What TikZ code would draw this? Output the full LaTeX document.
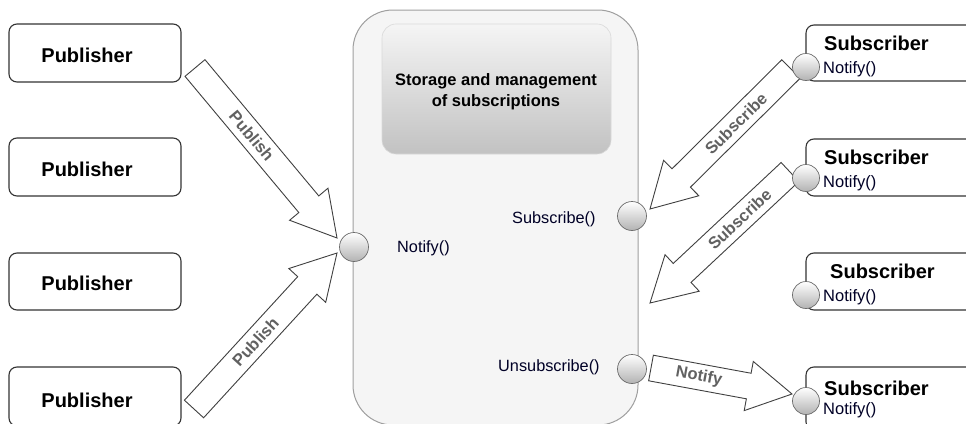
\documentclass[tikz,border=0pt]{standalone}
\usepackage{fontspec}
\setmainfont{Liberation Sans}
\usetikzlibrary{calc}
\tikzset{
  pubbox/.style={draw=black!80, line width=1.1pt, rounded corners=8pt, fill=white},
  subbox/.style={draw=black!80, line width=1.1pt, rounded corners=8pt, fill=white},
  port/.style={circle, draw=gray!85!black, line width=0.7pt, shading=axis, top color=white, bottom color=gray!60, minimum size=29pt, inner sep=0pt},
  sport/.style={port, minimum size=27pt},
  fat/.style={draw=black!75, line width=0.9pt, fill=white, line join=miter},
  lbl/.style={text=black!62, font=\bfseries\fontsize{16.5}{18}\selectfont, inner sep=0pt},
  bigtxt/.style={font=\bfseries\fontsize{20}{24}\selectfont, inner sep=0pt},
  meth/.style={font=\fontsize{16.3}{19}\selectfont, text=black!85!blue, inner sep=0pt, anchor=west},
}
\newcommand\fatarrow[4]{%
  \coordinate (fa-h) at ($(#2)!44pt!(#1)$);
  \draw[fat] ($(#1)!13pt!90:(#2)$) -- ($(fa-h)!13pt!90:(#2)$) -- ($(fa-h)!25pt!90:(#2)$) -- (#2)
    -- ($(fa-h)!25pt!-90:(#2)$) -- ($(fa-h)!13pt!-90:(#2)$) -- ($(#1)!13pt!-90:(#2)$) -- cycle;
  \path (#1) -- (#2) node[pos=#4, sloped, lbl] {#3};
}
\begin{document}
\begin{tikzpicture}[x=1pt,y=-1pt]
\useasboundingbox (0,0) rectangle (966,423);
\clip (0,0) rectangle (966,423);
\fill[white] (0,0) rectangle (966,423);

% central component
\draw[draw=gray!75, line width=1pt, fill=gray!8, rounded corners=40pt] (353,10) rectangle (638,425);
\node[draw=gray!30, line width=0.6pt, rounded corners=14pt, shading=axis, top color=gray!8, bottom color=gray!48,
  minimum width=229pt, minimum height=130pt, inner sep=0pt] (store) at (496.5,89) {};
\node[font=\bfseries\fontsize{16.5}{21}\selectfont, align=center, inner sep=0pt] (storetxt) at (496,92) {Storage and management\\of subscriptions};
\node[meth] (tnotify) at (397,248) {Notify()};
\node[meth] (tsub) at (512,219) {Subscribe()};
\node[meth] (tunsub) at (498,367) {Unsubscribe()};

% publishers
\foreach \i/\yt/\yb/\ty in {1/24/82/55, 2/138/196/169, 3/253/310/283, 4/367/426/400}{
  \draw[pubbox] (9,\yt) rectangle (181,\yb);
  \node[bigtxt] (pub\i) at (87,\ty) {Publisher};
}

% subscribers
\foreach \i/\yt/\yb/\ty/\tx in {1/25/81/43/824, 2/139/196/157/824, 3/253/310/271/830, 4/367/430/388/824}{
  \draw[subbox] (806,\yt) rectangle (1000,\yb);
  \node[bigtxt, anchor=west] (sub\i) at (\tx,\ty) {Subscriber};
}

% arrow end points
\coordinate (pa1) at (195,68);
\coordinate (pa1t) at (337,238);
\coordinate (pa2) at (194,409);
\coordinate (pa2t) at (337,253);
\coordinate (sa1) at (791,69);
\coordinate (sa1t) at (650,209);
\coordinate (sa2) at (790,172);
\coordinate (sa2t) at (650,303);
\coordinate (na) at (651,368);
\coordinate (nat) at (792,394);

\fatarrow{pa1}{pa1t}{Publish}{0.4}
\fatarrow{pa2}{pa2t}{Publish}{0.43}
\fatarrow{sa1}{sa1t}{Subscribe}{0.39}
\fatarrow{sa2}{sa2t}{Subscribe}{0.36}
\fatarrow{na}{nat}{Notify}{0.34}

% ports
\node[port] (pnotify) at (354,247) {};
\node[port] (psub) at (632,216) {};
\node[port] (punsub) at (632,369) {};
\foreach \i/\y in {1/67, 2/178, 3/295, 4/401}{
  \node[sport] (sp\i) at (806,\y) {};
}
\foreach \i/\y in {1/69, 2/183, 3/297, 4/410}{
  \node[meth, font=\fontsize{16.5}{19}\selectfont] (sn\i) at (823,\y) {Notify()};
}
\end{tikzpicture}
\end{document}
